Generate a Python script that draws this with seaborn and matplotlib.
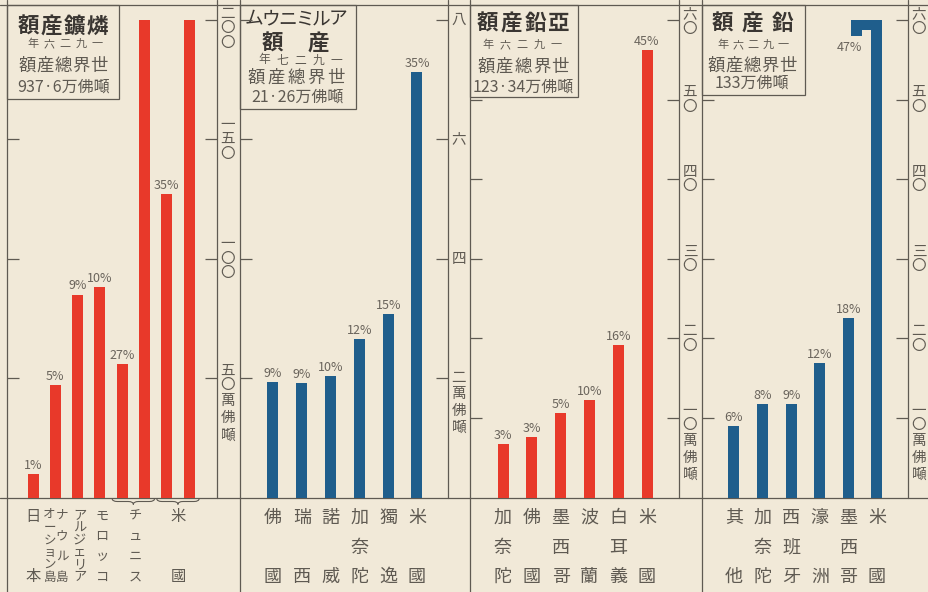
import numpy as np
import pandas as pd
import matplotlib
matplotlib.use("Agg")
import matplotlib.pyplot as plt
import matplotlib.transforms as mtransforms
from matplotlib.patches import Rectangle, PathPatch
from matplotlib.path import Path
import seaborn as sns

# ---------------------------------------------------------------- data
# 燐鑛 (phosphate rock), 1926, 万佛噸
phos_names = ["日本", "オーション島・ナウル島", "アルジェリア", "モロッコ", "チュニス", "米國"]
phos_amount = [10, 47, 85, 88, 256, 327]
phos_pct = ["1%", "5%", "9%", "10%", "27%", "35%"]
phos_ticks = [200, 150, 100, 50]
phos_ticklabels = ["二〇〇", "一五〇", "一〇〇", "五〇"]

# アルミニウム (aluminium), 1927, 万佛噸
alu_names = ["佛國", "瑞西", "諾威", "加奈陀", "獨逸", "米國"]
alu_amount = [1.93, 1.91, 2.03, 2.65, 3.08, 7.13]
alu_pct = ["9%", "9%", "10%", "12%", "15%", "35%"]
alu_ticks = [8, 6, 4, 2]
alu_ticklabels = ["八", "六", "四", "二"]

# 亞鉛 (zinc), 1926, 万佛噸
zinc_names = ["加奈陀", "佛國", "墨西哥", "波蘭", "白耳義", "米國"]
zinc_amount = [6.75, 7.58, 10.6, 12.3, 19.2, 56.2]
zinc_pct = ["3%", "3%", "5%", "10%", "16%", "45%"]

# 鉛 (lead), 1926, 万佛噸
lead_names = ["其他", "加奈陀", "西班牙", "濠洲", "墨西哥", "米國"]
lead_amount = [8.93, 11.8, 11.8, 16.9, 22.5, 62.0]
lead_pct = ["6%", "8%", "9%", "12%", "18%", "47%"]

ten_ticks = [60, 50, 40, 30, 20, 10]
ten_ticklabels = ["六〇", "五〇", "四〇", "三〇", "二〇", "一〇"]
unit = "萬佛噸"

# ---------------------------------------------------------------- style
W, H = 929, 592
PAPER = "#F1E9D8"
INK = "#5f5a52"
DARK = "#3a3632"
RED = "#E8392A"
BLUE = "#1F5E8C"

sns.set_theme(style="white")
plt.rcParams["font.family"] = ["Noto Sans CJK JP", "DejaVu Sans"]

fig = plt.figure(figsize=(W / 100, H / 100), dpi=100, facecolor=PAPER)

# pixel-space overlay for frame, boxes and bottom labels
ov = fig.add_axes([0, 0, 1, 1], zorder=0)
ov.set_xlim(0, W)
ov.set_ylim(H, 0)
ov.axis("off")

TOP, BASE, CAPY = 5, 497.5, 20
LW = 0.9

# frame lines
ov.plot([0, W], [TOP, TOP], color=INK, lw=LW)
ov.plot([0, W], [BASE, BASE], color=INK, lw=LW)
for x in (7, 240, 470, 702):
    ov.plot([x, x], [0, H], color=INK, lw=LW)
for x in (217, 448, 679, 908):
    ov.plot([x, x], [0, BASE], color=INK, lw=LW)


def spaced(xc, y, s, step, size, weight="normal", color=DARK):
    n = len(s)
    for i, ch in enumerate(s):
        ov.text(xc + (i - (n - 1) / 2) * step, y, ch, ha="center", va="center",
                fontsize=size, fontweight=weight, color=color)


def plain(xc, y, s, size, color=DARK):
    ov.text(xc, y, s, ha="center", va="center", fontsize=size, color=color)


def box(x0, y0, x1, y1):
    ov.add_patch(Rectangle((x0, y0), x1 - x0, y1 - y0, fill=False,
                           edgecolor=INK, lw=LW, zorder=3))


# title boxes (text set right-to-left as printed)
box(7, TOP, 119, 99)
spaced(63, 26, "額産鑛燐", 23, 15.5, "bold")
spaced(65, 44, "年六二九一", 16, 8, color=INK)
spaced(63, 66, "額産總界世", 18, 12.5, color=INK)
plain(64, 87, "937·6万佛噸", 11.5, INK)

box(240, TOP, 356, 109)
spaced(296, 19, "ムウニミルア", 17, 13.5, color=DARK)
spaced(295, 43, "額産", 46, 15.5, "bold")
spaced(300, 60, "年七二九一", 18, 8.5, color=INK)
spaced(296, 78, "額産總界世", 20, 12.5, color=INK)
plain(298, 97, "21·26万佛噸", 11.5, INK)

box(470, TOP, 578, 97)
spaced(523, 23, "額産鉛亞", 24, 15.5, "bold")
spaced(522, 45, "年六二九一", 17, 8, color=INK)
spaced(523, 67, "額産總界世", 18.5, 12.5, color=INK)
plain(523, 87, "123·34万佛噸", 11.5, INK)

box(702, TOP, 805, 95)
spaced(752, 23, "額産鉛", 30, 15.5, "bold")
spaced(753, 45, "年六二九一", 15, 8, color=INK)
spaced(752, 66, "額産總界世", 18, 12.5, color=INK)
plain(752, 83, "133万佛噸", 11.5, INK)


def vertical_name(ax, x, name, y_top, y_bot, size):
    tr = mtransforms.blended_transform_factory(ax.transData, ov.transData)
    n = len(name)
    for i, ch in enumerate(name):
        y = y_top if n == 1 else y_top + i * (y_bot - y_top) / (n - 1)
        ax.text(x, y, ch, transform=tr, ha="center", va="center",
                fontsize=size, color=INK, clip_on=False)


def brace(ax, x0, x1, y_top, y_bot):
    tr = mtransforms.blended_transform_factory(ax.transData, ov.transData)
    xm, ym = (x0 + x1) / 2, (y_top + y_bot) / 2
    q = (x1 - x0) * 0.12
    verts = [(x0, y_top), (x0, ym), (x0 + q, ym), (xm - q, ym), (xm, ym), (xm, y_bot),
             (xm, ym), (xm + q, ym), (x1 - q, ym), (x1, ym), (x1, y_top)]
    codes = [Path.MOVETO, Path.CURVE3, Path.CURVE3, Path.LINETO, Path.CURVE3, Path.CURVE3,
             Path.CURVE3, Path.CURVE3, Path.LINETO, Path.CURVE3, Path.CURVE3]
    ax.add_patch(PathPatch(Path(verts, codes), fill=False, edgecolor=INK, lw=0.8,
                           transform=tr, clip_on=False))


def tick_labels(ax, ticks, labels):
    trans = ax.get_yaxis_transform()
    for k, (v, lab) in enumerate(zip(ticks, labels)):
        n = len(lab)
        first = -(n - 1) / 2 * 14.5
        if k == 0:
            first = max(first, -6)
        offs = [first + 14.5 * i for i in range(n)]
        chars = list(lab)
        if k == len(ticks) - 1:
            last = offs[-1]
            for j, ch in enumerate(unit):
                offs.append(last + 16 + 17 * j)
                chars.append(ch)
        for ch, o in zip(chars, offs):
            t = mtransforms.offset_copy(trans, fig=fig, x=11, y=-o, units="dots")
            ax.text(1, v, ch, transform=t, ha="center", va="center",
                    fontsize=10.5, color=INK, clip_on=False)


def panel(left, right, first, step, cap, heights, color, left_ticks, right_ticks,
          right_labels, bar_labels):
    ax = fig.add_axes([left / W, 1 - BASE / H, (right - left) / W, (BASE - TOP) / H],
                      zorder=2)
    ax.patch.set_visible(False)
    bw = 11 / step
    df = pd.DataFrame({"slot": [str(i) for i in range(len(heights))], "h": heights})
    sns.barplot(data=df, x="slot", y="h", color=color, width=bw, saturation=1,
                errorbar=None, orient="x", linewidth=0, ax=ax)
    ax.bar_label(ax.containers[0], labels=bar_labels, padding=1.5, fontsize=9,
                 color="#6a645c")
    ax.set_xlim((left - first) / step, (right - first) / step)
    ax.set_ylim(0, cap * (BASE - TOP) / (BASE - CAPY))
    ax.set_xlabel("")
    ax.set_ylabel("")
    ax.set_xticks([])
    ax.set_yticks(left_ticks)
    ax.tick_params(axis="y", left=True, direction="in", length=8.6, width=LW,
                   color=INK, labelleft=False)
    sec = ax.secondary_yaxis("right")
    sec.set_yticks(right_ticks)
    sec.tick_params(axis="y", direction="in", length=8.6, width=LW, color=INK,
                    labelright=False)
    for s in list(ax.spines.values()) + list(sec.spines.values()):
        s.set_visible(False)
    tick_labels(ax, right_ticks, right_labels)
    return ax, bw


# ---------------------------------------------------------------- panel 1
# amounts above the axis cap wrap into a second, full-height bar
CAP1 = 200
p1_heights, p1_labels, p1_slots = [], [], []
for amt, pct in zip(phos_amount, phos_pct):
    if amt > CAP1:
        p1_slots.append([len(p1_heights), len(p1_heights) + 1])
        p1_heights += [amt - CAP1, CAP1]
        p1_labels += [pct, ""]
    else:
        p1_slots.append([len(p1_heights)])
        p1_heights.append(amt)
        p1_labels.append(pct)

ax1, _ = panel(7, 217, 33, 22.3, CAP1, p1_heights, RED, [150, 100, 50],
               phos_ticks, phos_ticklabels, p1_labels)
for name, slots in zip(phos_names, p1_slots):
    xc = float(np.mean(slots))
    parts = name.split("・")
    if len(parts) == 2:
        vertical_name(ax1, xc - 0.26, parts[0], 515, 577, 9)
        vertical_name(ax1, xc + 0.3, parts[1], 515, 577, 9)
    elif len(name) <= 2:
        vertical_name(ax1, xc, name, 517, 577, 11)
    else:
        vertical_name(ax1, xc + 0.1, name, 516, 577, 9.5)
    if len(slots) == 2:
        brace(ax1, slots[0] - 0.45, slots[1] + 0.45, 498.5, 504.5)

# ---------------------------------------------------------------- panel 2
ax2, _ = panel(240, 448, 273, 28.8, 8, alu_amount, BLUE, [8, 6, 4, 2],
               alu_ticks, alu_ticklabels, alu_pct)
for i, name in enumerate(alu_names):
    vertical_name(ax2, i, name, 518, 577, 13)

# ---------------------------------------------------------------- panel 3
ax3, _ = panel(470, 679, 503, 28.8, 60, zinc_amount, RED, [50, 40, 30, 20, 10],
               ten_ticks, ten_ticklabels, zinc_pct)
for i, name in enumerate(zinc_names):
    vertical_name(ax3, i, name, 518, 577, 13)

# ---------------------------------------------------------------- panel 4
CAP4 = 60
lead_heights = [min(a, CAP4) for a in lead_amount]
lead_labels = [p if a <= CAP4 else "" for a, p in zip(lead_amount, lead_pct)]
ax4, bw4 = panel(702, 908, 734, 28.6, CAP4, lead_heights, BLUE, [50, 40, 30, 20, 10],
                 ten_ticks, ten_ticklabels, lead_labels)
for i, name in enumerate(lead_names):
    vertical_name(ax4, i, name, 518, 577, 13)

# overflowing bar bends over the top and hangs back down
for i, (amt, pct) in enumerate(zip(lead_amount, lead_pct)):
    if amt > CAP4:
        over = amt - CAP4
        gap = 9 / 28.6
        leg_x = i - bw4 - gap
        thick = 1.25
        cap_left = leg_x - bw4 / 2
        cap_right = i + bw4 / 2
        ax4.bar((cap_left + cap_right) / 2, thick, width=cap_right - cap_left,
                bottom=CAP4 - thick, color=BLUE, linewidth=0, clip_on=False)
        ax4.bar(leg_x, over, width=bw4, bottom=CAP4 - over, color=BLUE,
                linewidth=0, clip_on=False)
        ax4.text(leg_x + bw4 / 2, CAP4 - over - 0.7, pct, ha="right", va="top",
                 fontsize=9, color="#6a645c")

fig.savefig("out.png", dpi=100, facecolor=PAPER)
